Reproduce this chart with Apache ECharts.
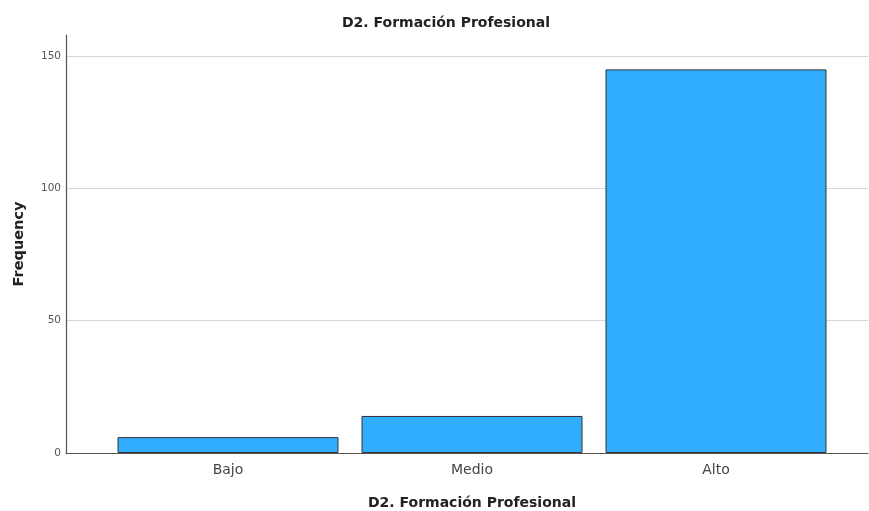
<!DOCTYPE html>
<html>
<head>
<meta charset="utf-8">
<script src="https://cdn.jsdelivr.net/npm/echarts@6/dist/echarts.min.js"></script>
<style>html,body{margin:0;padding:0;background:#fff}#c{width:869px;height:511px}</style>
</head>
<body>
<div id="c"></div>
<script>
var titleText = 'D2. Formación Profesional';
var categories = ['Bajo', 'Medio', 'Alto'];
var frequencies = [6, 14, 145];
var yTicks = [0, 50, 100, 150];
var yMax = 158;

var chart = echarts.init(document.getElementById('c'), null, {renderer: 'canvas'});
var font = 'DejaVu Sans, Verdana, sans-serif';
chart.setOption({
  animation: false,
  title: {
    text: titleText, left: 441, top: 11, textAlign: 'center',
    textStyle: {fontFamily: font, fontSize: 14, fontWeight: 'bold', color: '#222'}
  },
  grid: [
    {left: 66, right: 1, top: 35, bottom: 58, outerBoundsMode: 'none', containLabel: false},
    {left: 106, right: 31, top: 35, bottom: 58, outerBoundsMode: 'none', containLabel: false}
  ],
  xAxis: [
    {gridIndex: 0, type: 'value', min: 0, max: 1,
     axisLine: {show: true, lineStyle: {color: '#555', width: 1.2}},
     axisTick: {show: false}, axisLabel: {show: false}, splitLine: {show: false}},
    {gridIndex: 1, type: 'category', data: categories,
     axisLine: {show: false}, axisTick: {show: false},
     axisLabel: {fontFamily: font, fontSize: 14, color: '#444', margin: 10},
     name: titleText, nameLocation: 'middle', nameGap: 43,
     nameTextStyle: {fontFamily: font, fontSize: 14, fontWeight: 'bold', color: '#222'}}
  ],
  yAxis: [
    {gridIndex: 0, type: 'value', min: 0, max: yMax, interval: 50,
     axisLine: {show: true, lineStyle: {color: '#555', width: 1.2}},
     axisTick: {show: false},
     axisLabel: {fontFamily: font, fontSize: 10.5, color: '#555', margin: 5, showMaxLabel: false,
       formatter: function (v) { return yTicks.indexOf(v) >= 0 ? String(v) : ''; }},
     splitLine: {show: true, lineStyle: {color: ['#d6d6d6', '#d6d6d6', '#d6d6d6', '#d6d6d6', 'rgba(0,0,0,0)'], width: 1}},
     name: 'Frequency', nameLocation: 'middle', nameGap: 39, nameRotate: 90,
     nameTextStyle: {fontFamily: font, fontSize: 14.5, fontWeight: 'bold', color: '#222'}},
    {gridIndex: 1, type: 'value', min: 0, max: yMax, interval: 50, show: false,
     splitLine: {show: false}}
  ],
  series: [{
    type: 'bar', xAxisIndex: 1, yAxisIndex: 1,
    data: frequencies, barWidth: 221,
    itemStyle: {color: '#31adff', borderColor: '#333', borderWidth: 1}
  }]
});
</script>
</body>
</html>
